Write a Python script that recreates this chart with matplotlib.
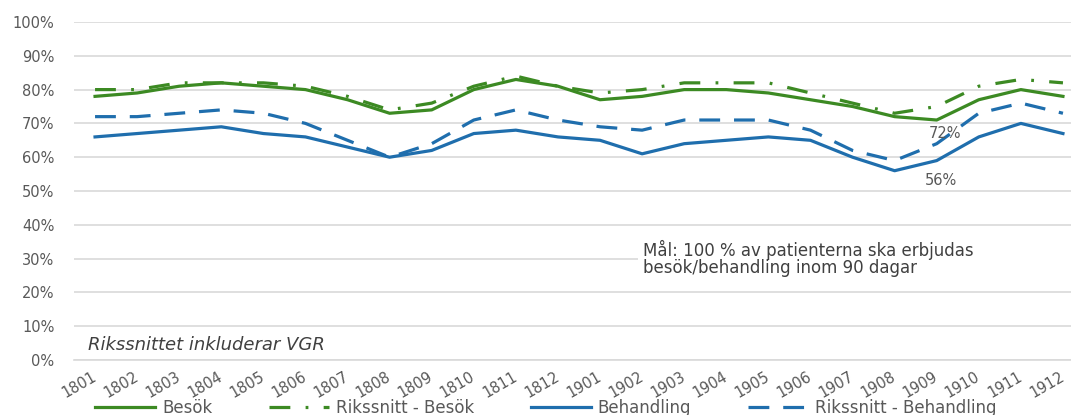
import matplotlib
matplotlib.use("Agg")
import matplotlib.pyplot as plt
import matplotlib.transforms as mtransforms
from matplotlib.patches import Rectangle
from matplotlib.ticker import FuncFormatter

periods = ["1801", "1802", "1803", "1804", "1805", "1806", "1807", "1808",
           "1809", "1810", "1811", "1812", "1901", "1902", "1903", "1904",
           "1905", "1906", "1907", "1908", "1909", "1910", "1911", "1912"]

besok = [78, 79, 81, 82, 81, 80, 77, 73, 74, 80, 83, 81,
         77, 78, 80, 80, 79, 77, 75, 72, 71, 77, 80, 78]
riks_besok = [80, 80, 82, 82, 82, 81, 78, 74, 76, 81, 84, 81,
              79, 80, 82, 82, 82, 79, 76, 73, 75, 81, 83, 82]
behandling = [66, 67, 68, 69, 67, 66, 63, 60, 62, 67, 68, 66,
              65, 61, 64, 65, 66, 65, 60, 56, 59, 66, 70, 67]
riks_behandling = [72, 72, 73, 74, 73, 70, 65, 60, 64, 71, 74, 71,
                   69, 68, 71, 71, 71, 68, 62, 59, 64, 73, 76, 73]

# value labels: (series, period)
labelled = [(besok, "1908"), (behandling, "1908")]

green = "#3C8A23"
blue = "#1F6EAD"
grey = "#595959"

plt.rcParams["lines.scale_dashes"] = False
plt.rcParams["font.family"] = "DejaVu Sans"

fig = plt.figure(figsize=(10.71, 4.15), dpi=100)
ax = fig.add_axes([74 / 1071, 55 / 415, 1010 / 1071, 338 / 415])

x = list(range(len(periods)))
lw = 2.3
ax.plot(x, besok, color=green, lw=lw, label="Besök", zorder=3)
ax.plot(x, riks_besok, color=green, lw=lw, dashes=(15, 11, 2, 11),
        label="Rikssnitt - Besök", zorder=3)
ax.plot(x, behandling, color=blue, lw=lw, label="Behandling", zorder=3)
ax.plot(x, riks_behandling, color=blue, lw=lw, dashes=(15, 10),
        label="Rikssnitt - Behandling", zorder=3)

# labels sit down and to the right of their point
label_offsets = [(36, -12), (33, -7)]
for (series, period), off in zip(labelled, label_offsets):
    i = periods.index(period)
    ax.annotate(f"{series[i]}%", (i, series[i]), xytext=off,
                textcoords="offset points", ha="center", va="center",
                fontsize=10.5, color=grey, zorder=4)

ax.set_xlim(-0.5, len(periods) - 0.5)
ax.set_ylim(0, 100)
ax.set_yticks(range(0, 101, 10))
ax.yaxis.set_major_formatter(FuncFormatter(lambda v, _: f"{v:.0f}%"))
ax.set_xticks(x)
ax.set_xticklabels(periods, rotation=30, ha="right", va="center",
                   rotation_mode="anchor")
offset = mtransforms.ScaledTranslation(5 / 100, 0, fig.dpi_scale_trans)
for lab in ax.get_xticklabels():
    lab.set_transform(lab.get_transform() + offset)

ax.tick_params(axis="both", length=0, colors=grey, labelsize=10.5)
ax.tick_params(axis="y", pad=14)
ax.tick_params(axis="x", pad=11)
ax.grid(axis="y", color="#D9D9D9", lw=1.2)
ax.set_axisbelow(True)
for side in ["top", "right", "left"]:
    ax.spines[side].set_visible(False)
ax.spines["bottom"].set_color("#D9D9D9")
ax.spines["bottom"].set_linewidth(1.2)

# white box behind the target note
ax.add_patch(Rectangle((0.558, 0.24), 0.5, 0.11, transform=ax.transAxes,
                       facecolor="white", edgecolor="none", zorder=1,
                       clip_on=False))
ax.text(0.563, 0.30, "Mål: 100 % av patienterna ska erbjudas\n"
        "besök/behandling inom 90 dagar", transform=ax.transAxes,
        ha="left", va="center", fontsize=12, color="#404040",
        linespacing=0.95, zorder=2)
ax.text(0.014, 0.045, "Rikssnittet inkluderar VGR", transform=ax.transAxes,
        ha="left", va="center", fontsize=13, style="italic", color="#404040")

fig.legend(loc="center left", bbox_to_anchor=(95 / 1071, 7 / 415),
           ncol=4, frameon=False, fontsize=12, handlelength=3.6,
           handletextpad=0.42, columnspacing=3.4, borderpad=0,
           borderaxespad=0, labelcolor=grey)

fig.savefig("out.png", dpi=100)
